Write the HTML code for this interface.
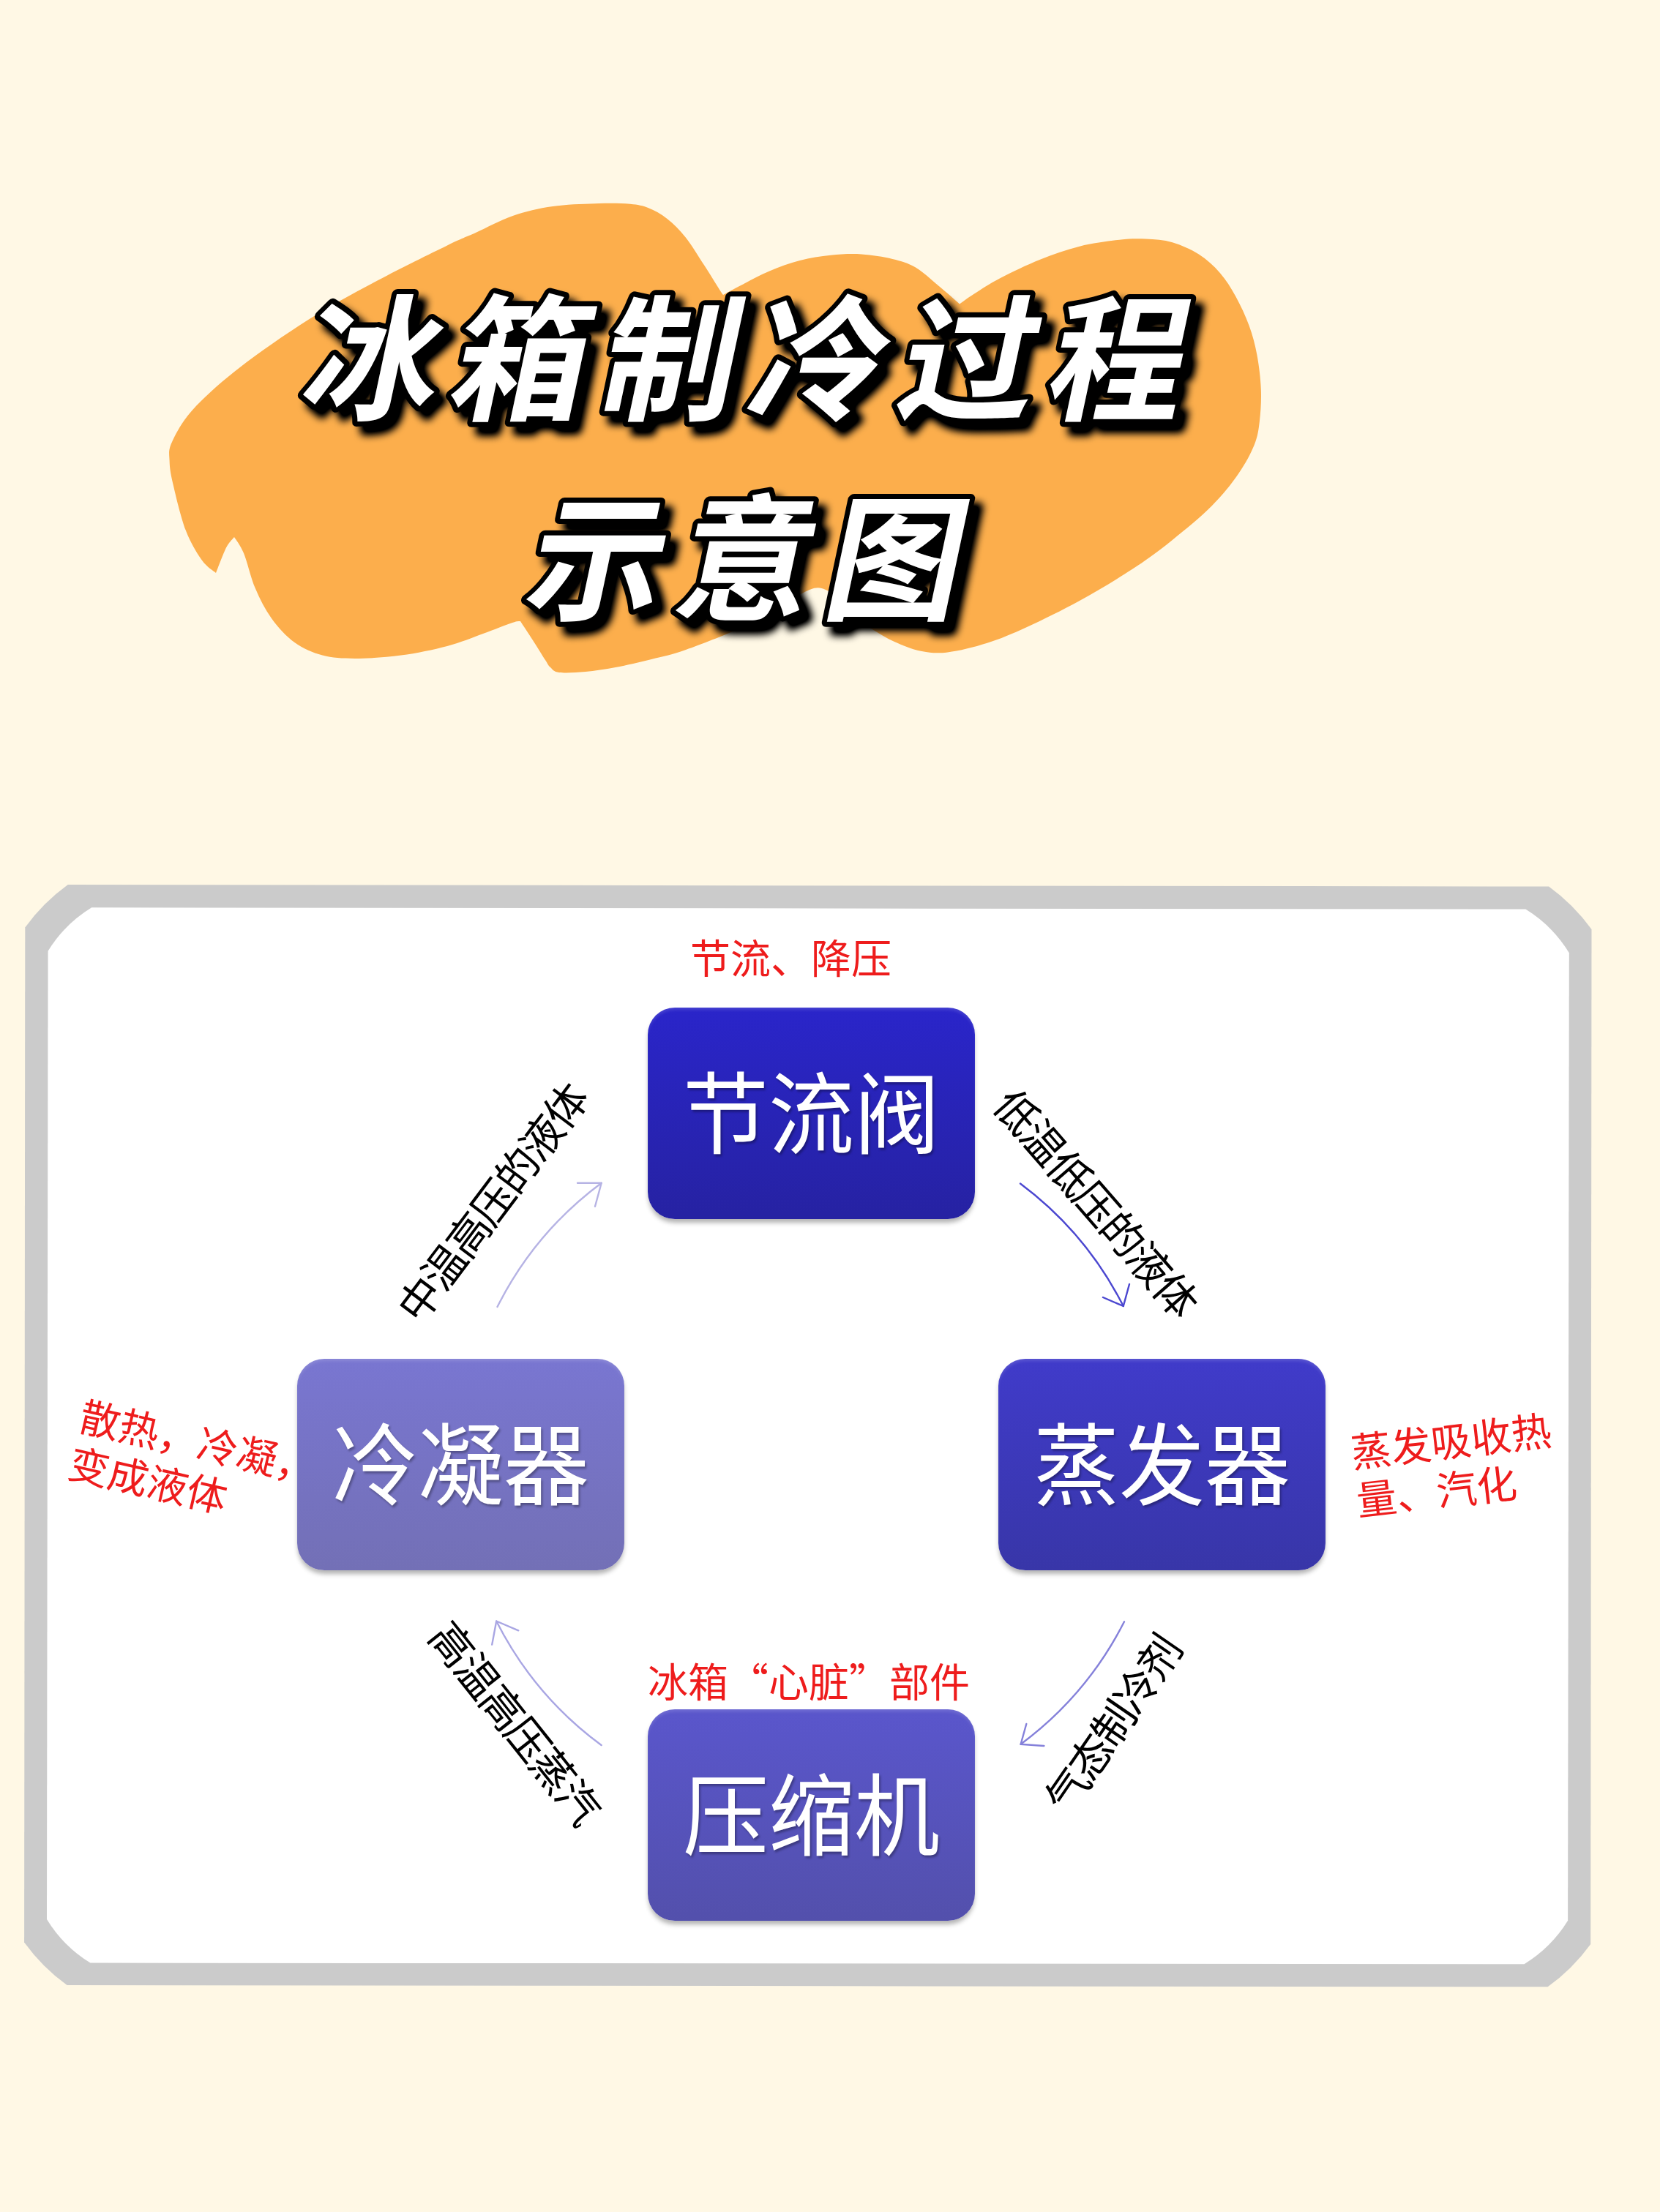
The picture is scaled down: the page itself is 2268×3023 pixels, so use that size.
<!DOCTYPE html>
<html lang="zh-CN">
<head>
<meta charset="utf-8">
<title>冰箱制冷过程示意图</title>
<style>
html,body{margin:0;padding:0;}
body{width:2268px;height:3023px;position:relative;overflow:hidden;background:#fff8e5;
  font-family:"Liberation Sans","Noto Sans CJK SC",sans-serif;}
.abs{position:absolute;}
#art{position:absolute;left:0;top:0;width:2268px;height:3023px;}
.title{font-family:"Liberation Sans","Noto Sans CJK SC",sans-serif;font-weight:700;font-size:186px;
  fill:#fff;stroke:#000;stroke-width:14px;paint-order:stroke fill;stroke-linejoin:round;letter-spacing:18px;}
.box{position:absolute;width:447px;height:289px;border-radius:37px;color:#fff;
  font-size:117px;font-weight:400;line-height:296px;text-align:center;white-space:nowrap;
  box-shadow:0 6px 6px -1px rgba(0,0,0,.3),inset 0 4px 4px -1px rgba(255,255,255,.14);text-shadow:2px 3px 3px rgba(0,0,0,.3);}
.box span{display:inline-block;transform:scaleY(1.04);transform-origin:50% 50%;}
.b1{left:885px;top:1377px;background:linear-gradient(#2a25ca,#2622a2);}
.b2{left:1364px;top:1857px;background:linear-gradient(#403bca,#3836a8);}
.b3{left:885px;top:2336px;background:linear-gradient(#5a56cc,#5350ac);}
.b4{left:406px;top:1857px;background:linear-gradient(#7976d1,#7370b6);}
.red{position:absolute;color:#ee1c1c;font-size:55px;line-height:64px;white-space:nowrap;font-weight:400;}
.q{font-family:"Noto Sans CJK SC","Liberation Sans",sans-serif;}
.rot{position:absolute;width:0;height:0;}
.rot span{position:absolute;left:-300px;width:600px;top:-40px;height:80px;line-height:80px;text-align:center;
  font-size:58px;font-weight:400;color:#000;white-space:nowrap;letter-spacing:-2.7px;}
</style>
</head>
<body>
<svg id="art" width="2268" height="3023" viewBox="0 0 2268 3023">
  <defs>
    <filter id="ds" x="-5%" y="-10%" width="112%" height="125%">
      <feGaussianBlur in="SourceAlpha" stdDeviation="5.5" result="b"/>
      <feOffset in="b" dx="11" dy="12" result="o"/>
      <feComponentTransfer in="o" result="s"><feFuncA type="linear" slope="1.25"/></feComponentTransfer>
      <feMerge><feMergeNode in="s"/><feMergeNode in="SourceGraphic"/></feMerge>
    </filter>
  </defs>
  <path id="blob" fill="#fcae4c" d="M295.0,783.0 C291.8,780.1 282.9,775.5 276.0,765.8 C269.1,756.1 260.4,742.1 253.8,724.7 C247.2,707.3 240.1,677.2 236.4,661.4 C232.7,645.6 231.9,639.2 231.6,629.7 C231.3,620.2 229.5,616.0 234.8,604.4 C240.1,592.8 248.0,576.9 263.3,560.0 C278.6,543.1 300.2,523.5 326.6,503.0 C353.0,482.4 389.9,456.7 421.5,436.7 C453.1,416.7 484.9,399.9 516.5,383.0 C548.1,366.1 588.8,346.2 611.0,335.4 C633.2,324.6 635.1,324.7 650.0,318.0 C664.9,311.3 683.0,301.0 700.6,295.0 C718.2,289.0 735.7,284.8 755.4,282.0 C775.1,279.2 801.1,278.5 818.7,278.0 C836.3,277.5 849.8,277.8 861.0,278.8 C872.2,279.9 877.6,280.9 886.0,284.3 C894.4,287.7 903.0,292.3 911.5,299.0 C920.0,305.7 928.4,313.8 936.8,324.4 C945.2,334.9 954.3,350.4 962.0,362.3 C969.7,374.2 978.9,389.2 983.2,396.0 C987.5,402.8 987.2,401.8 988.0,403.0 C992.1,400.8 1002.2,395.1 1012.7,389.7 C1023.2,384.3 1037.4,376.3 1050.7,370.7 C1064.0,365.1 1078.8,359.6 1092.8,356.0 C1106.8,352.4 1120.9,350.2 1135.0,348.8 C1149.1,347.4 1163.1,346.6 1177.2,347.5 C1191.3,348.4 1207.1,350.9 1219.4,353.9 C1231.7,356.9 1239.7,358.8 1251.0,365.6 C1262.3,372.4 1277.0,386.3 1287.0,394.6 C1297.0,402.9 1307.0,412.0 1311.0,415.5 C1314.3,413.2 1321.4,407.7 1330.7,401.8 C1340.0,395.9 1351.8,387.8 1366.8,380.0 C1381.8,372.2 1403.0,362.0 1421.0,354.8 C1439.0,347.6 1456.9,341.2 1475.0,336.7 C1493.1,332.2 1514.4,329.4 1529.5,327.7 C1544.6,326.0 1553.5,326.0 1565.6,326.6 C1577.6,327.2 1589.8,327.8 1601.8,331.3 C1613.8,334.8 1627.1,340.7 1637.9,347.6 C1648.7,354.5 1658.4,363.3 1666.8,372.9 C1675.2,382.5 1681.9,393.4 1688.5,405.4 C1695.1,417.4 1701.8,431.7 1706.6,445.0 C1711.4,458.3 1714.7,470.5 1717.4,485.0 C1720.1,499.5 1722.2,516.9 1722.8,531.9 C1723.4,546.9 1722.5,562.4 1721.0,575.0 C1719.5,587.6 1718.6,595.7 1713.8,607.8 C1709.0,619.9 1701.6,633.6 1692.0,647.5 C1682.4,661.4 1671.0,675.9 1656.0,691.0 C1641.0,706.1 1619.9,723.5 1601.8,737.9 C1583.7,752.3 1568.6,763.8 1547.5,777.6 C1526.4,791.5 1499.1,807.8 1475.0,821.0 C1450.9,834.2 1424.0,847.4 1403.0,857.0 C1382.0,866.6 1366.9,873.0 1348.8,878.8 C1330.7,884.5 1309.7,889.7 1294.6,891.5 C1279.5,893.3 1270.1,892.1 1258.0,889.7 C1245.9,887.3 1232.8,881.8 1222.0,877.0 C1211.2,872.2 1201.4,866.0 1193.0,860.8 C1184.6,855.6 1178.9,852.5 1171.7,846.0 C1164.5,839.5 1153.6,826.0 1150.0,822.0 C1146.3,819.3 1135.3,808.7 1128.0,806.0 C1120.7,803.3 1117.3,801.7 1106.0,806.0 C1094.7,810.3 1076.0,823.2 1060.0,832.0 C1044.0,840.8 1030.5,849.7 1010.0,859.0 C989.5,868.3 957.0,881.0 937.0,888.0 C917.0,895.0 906.0,897.0 890.0,901.0 C874.0,905.0 856.0,909.2 841.0,912.0 C826.0,914.8 812.8,916.8 800.0,918.0 C787.2,919.2 772.0,920.0 764.0,919.0 C756.0,918.0 755.2,914.8 752.0,912.0 C748.8,909.2 749.0,908.2 745.0,902.0 C741.0,895.8 733.7,883.8 728.0,875.0 C722.3,866.2 713.8,853.3 711.0,849.0 C709.2,849.3 708.5,848.2 700.0,851.0 C691.5,853.8 674.8,860.7 660.0,866.0 C645.2,871.3 629.7,878.1 611.0,883.0 C592.3,887.9 569.0,892.8 548.0,895.6 C527.0,898.4 502.7,900.0 484.8,900.0 C466.9,900.0 454.2,899.3 440.5,895.6 C426.8,891.9 414.1,886.4 402.5,878.0 C390.9,869.6 379.9,857.4 370.9,845.0 C361.9,832.6 355.0,818.6 348.7,803.8 C342.4,789.0 337.8,767.6 333.0,756.0 C328.2,744.4 322.2,737.7 320.0,734.0 C318.5,735.8 313.6,740.8 311.0,745.0 C308.4,749.2 307.1,752.7 304.4,759.0 C301.7,765.3 296.6,779.0 295.0,783.0 Z"/>
<path id="pout" fill="#cbcbcb" d="M34.3,1267.4 Q58.9,1233.5 92.8,1209.0 L2116.1,1211.5 Q2150.0,1236.1 2174.5,1270.1 L2173.2,2656.9 Q2148.6,2690.8 2114.6,2715.3 L91.6,2713.1 Q57.7,2688.5 33.1,2654.5 Z"/>
  <path id="pin" fill="#ffffff" d="M65.6,1299.7 Q88.3,1262.8 125.2,1240.3 L2084.4,1242.6 Q2121.3,1265.3 2143.8,1302.2 L2142.1,2624.8 Q2119.4,2661.7 2082.5,2684.2 L123.4,2682.6 Q86.5,2659.9 64.0,2623.0 Z"/>
  <g filter="url(#ds)">
    <g transform="skewX(-12)">
      <text class="title" x="523" y="560">冰箱制冷过程</text>
      <text class="title" x="889" y="833">示意图</text>
    </g>
  </g>
</svg>


<div class="box b1"><span>节流阀</span></div>
<div class="box b2"><span>蒸发器</span></div>
<div class="box b3"><span>压缩机</span></div>
<div class="box b4"><span>冷凝器</span></div>

<div class="red" id="r1" style="left:943px;top:1279px;">节流、降压</div>
<div class="red" id="r3" style="left:885px;top:2263px;">冰箱<span class="q">“</span>心脏<span class="q">”</span>部件</div>
<div class="red" id="r4" style="left:98px;top:1939px;line-height:66px;transform:rotate(13deg);transform-origin:50% 50%;">散热，冷凝，<br>变成液体</div>
<div class="red" id="r2" style="left:1849px;top:1938px;line-height:66px;transform:rotate(-6.5deg);transform-origin:50% 50%;">蒸发吸收热<br>量、汽化</div>

<svg class="abs" style="left:0;top:0" width="2268" height="3023" viewBox="0 0 2268 3023" fill="none" stroke-width="2.4" stroke-linecap="round" stroke-linejoin="round">
  <g stroke="#b6b3e4">
    <path d="M679.5,1786 A479,479 0 0 1 821.7,1616.7"/>
    <path d="M789,1616.7 L821.7,1616.7 L813,1648.8"/>
  </g>
  <g stroke="#4b47d0">
    <path d="M1394,1617.5 A479,479 0 0 1 1534.8,1785"/>
    <path d="M1507,1773 L1534.8,1785 L1543,1755"/>
  </g>
  <g stroke="#8581da">
    <path d="M1536,2216.3 A479,479 0 0 1 1394.6,2383.7"/>
    <path d="M1402.3,2356 L1394.6,2383.7 L1426.4,2386"/>
  </g>
  <g stroke="#a9a6e3">
    <path d="M821.6,2385 A479,479 0 0 1 678.2,2215.5"/>
    <path d="M708.3,2228.3 L678.2,2215.5 L672.2,2247.6"/>
  </g>
</svg>

<div class="rot" style="left:674px;top:1645px;transform:rotate(-53deg);"><span>中温高压的液体</span></div>
<div class="rot" style="left:1496px;top:1645px;transform:rotate(49deg);"><span>低温低压的液体</span></div>
<div class="rot" style="left:1522px;top:2357px;transform:rotate(-55.5deg);"><span>气态制冷剂</span></div>
<div class="rot" style="left:702px;top:2355px;transform:rotate(51.5deg);"><span>高温高压蒸汽</span></div>

</body>
</html>
